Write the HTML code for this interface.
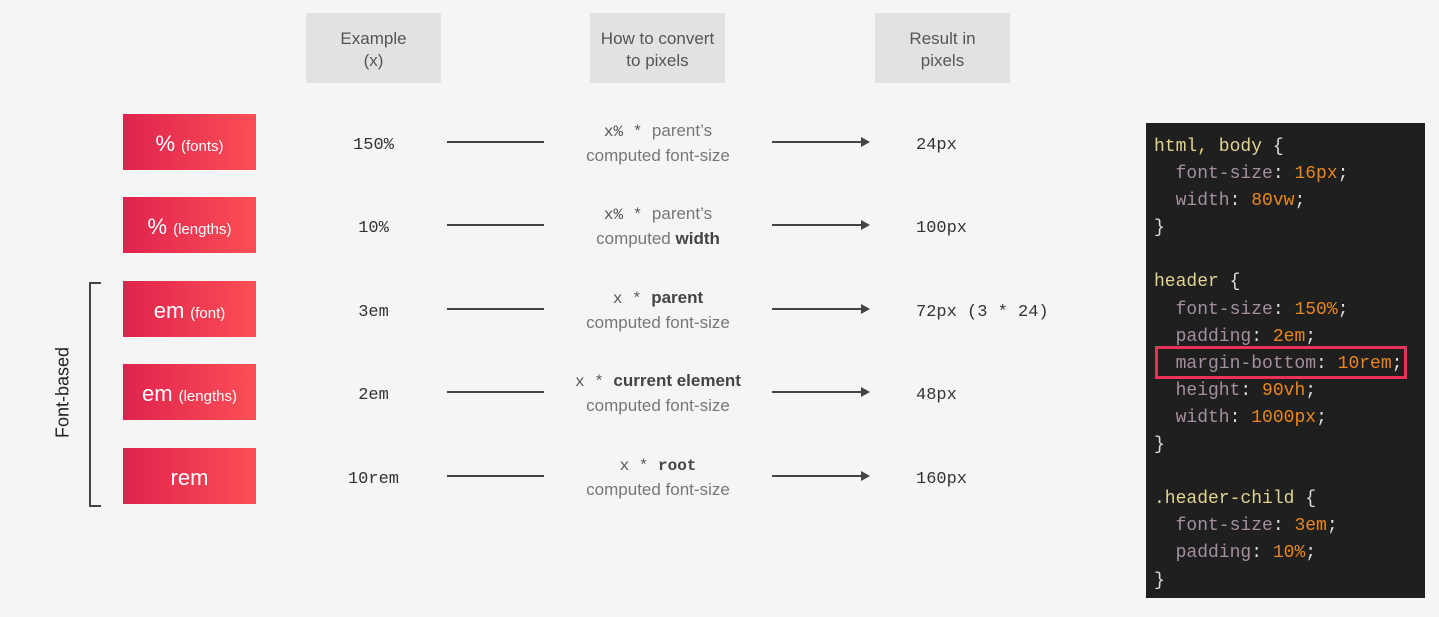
<!DOCTYPE html>
<html><head><meta charset="utf-8"><style>
body{margin:0;width:1439px;height:617px;background:#f5f5f5;position:relative;overflow:hidden;font-family:"Liberation Sans",sans-serif}
.a{position:absolute}
.hd{position:absolute;top:13px;width:135px;height:70px;background:#e2e2e2;color:#555;font-size:17px;line-height:22px;text-align:center;display:flex;align-items:center;justify-content:center;padding-top:4px;box-sizing:border-box}
.bx{position:absolute;left:123px;width:133px;height:56px;background:linear-gradient(90deg,#e0234e,#fb4f55);color:#fff;font-size:22px;display:flex;align-items:center;justify-content:center;padding-top:4px;box-sizing:border-box}
.bx small{font-size:15px;margin-left:6px;margin-top:4px}
.ex{position:absolute;left:306px;width:135px;text-align:center;font-family:"Liberation Mono",monospace;font-size:17px;color:#333}
.ln{position:absolute;left:447px;width:97px;height:2px;background:#444}
.ar{position:absolute;left:772px;width:90px;height:2px;background:#444}
.ar:after{content:"";position:absolute;right:-8px;top:-4px;border-left:9px solid #444;border-top:5px solid transparent;border-bottom:5px solid transparent}
.cv{position:absolute;left:540px;width:236px;text-align:center;font-size:17px;line-height:24px;color:#777}
.cv .m{font-family:"Liberation Mono",monospace;color:#555;font-size:16px}
.cv b{color:#444}
.rs{position:absolute;left:916px;font-family:"Liberation Mono",monospace;font-size:17px;color:#333;white-space:pre}
.code{position:absolute;left:1146px;top:123px;width:279px;height:475px;background:#1f1f1f}
.code pre{margin:0;position:absolute;left:8px;top:11px;font-family:"Liberation Mono",monospace;font-size:18px;line-height:27.1px;color:#a48fa0}
.s{color:#e0d48f}.v{color:#e8871e}.w{color:#ddd}
</style></head><body>
<div class="hd" style="left:306px">Example<br>(x)</div>
<div class="hd" style="left:590px">How to convert<br>to pixels</div>
<div class="hd" style="left:875px">Result in<br>pixels</div>

<div class="bx" style="top:114px">%<small>(fonts)</small></div>
<div class="bx" style="top:197px">%<small>(lengths)</small></div>
<div class="bx" style="top:281px">em<small>(font)</small></div>
<div class="bx" style="top:364px">em<small>(lengths)</small></div>
<div class="bx" style="top:448px">rem</div>

<div class="a" style="left:89px;top:282px;width:10px;height:221px;border:2px solid #444;border-right:none"></div>
<div class="a" style="left:13px;top:382px;width:100px;text-align:center;transform:rotate(-90deg);font-size:18px;color:#222">Font-based</div>

<div class="ex" style="top:136px">150%</div>
<div class="ex" style="top:219px">10%</div>
<div class="ex" style="top:303px">3em</div>
<div class="ex" style="top:386px">2em</div>
<div class="ex" style="top:470px">10rem</div>

<div class="ln" style="top:141px"></div><div class="ln" style="top:224px"></div><div class="ln" style="top:308px"></div><div class="ln" style="top:391px"></div><div class="ln" style="top:475px"></div>
<div class="ar" style="top:141px"></div><div class="ar" style="top:224px"></div><div class="ar" style="top:308px"></div><div class="ar" style="top:391px"></div><div class="ar" style="top:475px"></div>

<div class="cv" style="top:119px"><span class="m">x% * </span>parent’s<br>computed font-size</div>
<div class="cv" style="top:202px"><span class="m">x% * </span>parent’s<br>computed <b>width</b></div>
<div class="cv" style="top:286px"><span class="m">x * </span><b>parent</b><br>computed font-size</div>
<div class="cv" style="top:369px"><span class="m">x * </span><b>current element</b><br>computed font-size</div>
<div class="cv" style="top:453px"><span class="m">x * <b>root</b></span><br>computed font-size</div>

<div class="rs" style="top:136px">24px</div>
<div class="rs" style="top:219px">100px</div>
<div class="rs" style="top:303px">72px (3 * 24)</div>
<div class="rs" style="top:386px">48px</div>
<div class="rs" style="top:470px">160px</div>

<div class="code"><pre><span class="s">html, body</span> <span class="w">{</span>
  font-size<span class="w">:</span> <span class="v">16px</span><span class="w">;</span>
  width<span class="w">:</span> <span class="v">80vw</span><span class="w">;</span>
<span class="w">}</span>

<span class="s">header</span> <span class="w">{</span>
  font-size<span class="w">:</span> <span class="v">150%</span><span class="w">;</span>
  padding<span class="w">:</span> <span class="v">2em</span><span class="w">;</span>
  margin-bottom<span class="w">:</span> <span class="v">10rem</span><span class="w">;</span>
  height<span class="w">:</span> <span class="v">90vh</span><span class="w">;</span>
  width<span class="w">:</span> <span class="v">1000px</span><span class="w">;</span>
<span class="w">}</span>

<span class="s">.header-child</span> <span class="w">{</span>
  font-size<span class="w">:</span> <span class="v">3em</span><span class="w">;</span>
  padding<span class="w">:</span> <span class="v">10%</span><span class="w">;</span>
<span class="w">}</span></pre>
<div class="a" style="left:9px;top:223px;width:252px;height:33px;border:3px solid #e8325a;box-sizing:border-box"></div>
</div>
</body></html>
